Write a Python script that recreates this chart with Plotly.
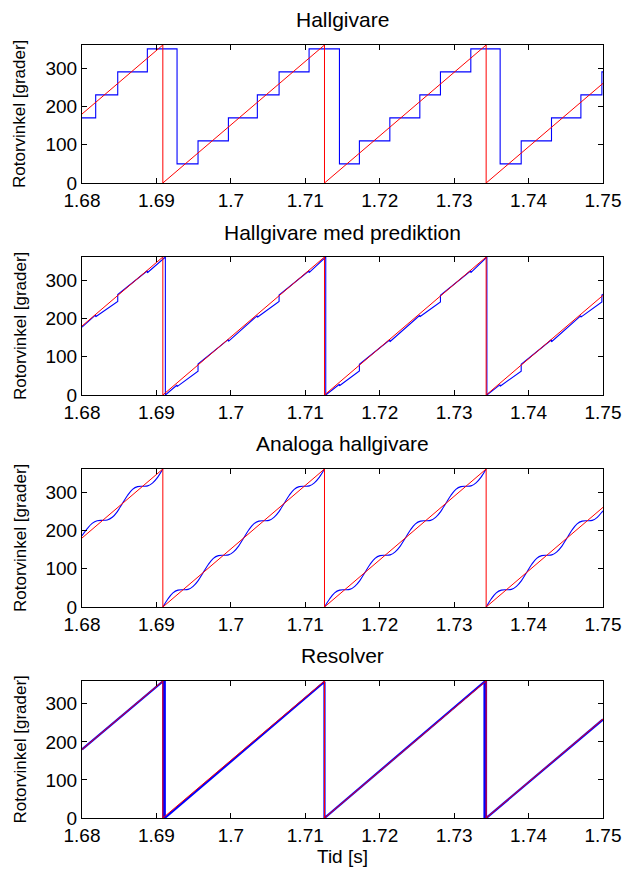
import plotly.graph_objects as go

# ---------------- data ----------------
# true rotor angle (red sawtooth) vertices
red_t = [1.68, 1.69086, 1.69086, 1.71258, 1.71258, 1.73430, 1.73430, 1.75]
red_v = [180, 360, 0, 360, 0, 360, 0, 260]

# Hall sensor steps
hall_t = [1.68, 1.68184, 1.68480, 1.68878, 1.69277, 1.69559, 1.69967, 1.70356, 1.70648,
          1.71051, 1.71459, 1.71727, 1.72136, 1.72539, 1.72816, 1.73224, 1.73618, 1.73901,
          1.74308, 1.74703, 1.74985, 1.75]
hall_v = [170, 230, 290, 350, 50, 110, 170, 230, 290, 350, 50, 110, 170, 230, 290, 350,
          50, 110, 170, 230, 290, 290]

# Hall sensor with prediction
pred_t = [1.68, 1.68184, 1.68184, 1.68480, 1.68480, 1.68878, 1.68878, 1.69120, 1.69120,
          1.69277, 1.69277, 1.69559, 1.69559, 1.69967, 1.69967, 1.70356, 1.70356, 1.70648,
          1.70648, 1.71051, 1.71051, 1.71275, 1.71275, 1.71459, 1.71459, 1.71727, 1.71727,
          1.72136, 1.72136, 1.72539, 1.72539, 1.72816, 1.72816, 1.73224, 1.73224, 1.73440,
          1.73440, 1.73618, 1.73618, 1.73901, 1.73901, 1.74308, 1.74308, 1.74703, 1.74703,
          1.74985, 1.74985, 1.75]
pred_v = [177, 209, 204, 244, 262, 324, 319, 360, 0,
          26, 22, 62, 81, 145, 140, 207, 203, 244,
          261, 324, 319, 360, 0, 28, 24, 63, 80,
          144, 139, 208, 204, 243, 260, 324, 319, 360,
          0, 27, 23, 62, 80, 144, 139, 207, 203,
          243, 261, 263]

# Analog Hall sensors (one list per revolution segment)
ana_t1 = [1.68000, 1.68068, 1.68136, 1.68204, 1.68272, 1.68339, 1.68407, 1.68475, 1.68543,
          1.68611, 1.68679, 1.68747, 1.68815, 1.68882, 1.68950, 1.69018, 1.69086]
ana_v1 = [186, 204, 218, 225, 226, 227, 234, 249, 270, 291, 307, 314, 315, 316, 324, 339, 360]
ana_t2 = [1.69086, 1.69154, 1.69222, 1.69290, 1.69358, 1.69425, 1.69493, 1.69561, 1.69629,
          1.69697, 1.69765, 1.69833, 1.69901, 1.69968, 1.70036, 1.70104, 1.70172, 1.70240,
          1.70308, 1.70376, 1.70444, 1.70511, 1.70579, 1.70647, 1.70715, 1.70783, 1.70851,
          1.70919, 1.70987, 1.71054, 1.71122, 1.71190, 1.71258]
ana_v2 = [0, 21, 37, 44, 45, 46, 54, 69, 90, 111, 127, 134, 135, 136, 144, 159, 180, 201,
          217, 224, 225, 226, 234, 249, 270, 291, 307, 314, 315, 316, 324, 339, 360]
ana_t3 = [1.71258, 1.71326, 1.71394, 1.71462, 1.71530, 1.71597, 1.71665, 1.71733, 1.71801,
          1.71869, 1.71937, 1.72005, 1.72073, 1.72140, 1.72208, 1.72276, 1.72344, 1.72412,
          1.72480, 1.72548, 1.72616, 1.72683, 1.72751, 1.72819, 1.72887, 1.72955, 1.73023,
          1.73091, 1.73159, 1.73226, 1.73294, 1.73362, 1.73430]
ana_v3 = [0, 21, 37, 44, 45, 46, 54, 69, 90, 111, 127, 134, 135, 136, 144, 159, 180, 201,
          217, 224, 225, 226, 234, 249, 270, 291, 307, 314, 315, 316, 324, 339, 360]
ana_t4 = [1.73430, 1.73498, 1.73566, 1.73634, 1.73702, 1.73769, 1.73837, 1.73905, 1.73973,
          1.74041, 1.74109, 1.74177, 1.74245, 1.74312, 1.74380, 1.74448, 1.74516, 1.74584,
          1.74652, 1.74720, 1.74788, 1.74855, 1.74923, 1.74991, 1.75]
ana_v4 = [0, 21, 37, 44, 45, 46, 54, 69, 90, 111, 127, 134, 135, 136, 144, 159, 180, 201,
          217, 224, 225, 226, 234, 249, 251]

# Resolver
res_t = [1.68, 1.69092, 1.69092, 1.69102, 1.69102, 1.69112, 1.69112, 1.71258, 1.71258,
         1.73408, 1.73408, 1.73418, 1.73418, 1.73428, 1.73428, 1.73438, 1.73438, 1.75]
res_v = [180, 360, 1, 1, 359, 359, 0, 358, 0,
         358, 1, 1, 359, 359, 1, 1, 359, 359]
res_t_tail = [1.73438, 1.75]
res_v_tail = [1, 259]

titles = ["Hallgivare", "Hallgivare med prediktion", "Analoga hallgivare", "Resolver"]
x_ticks = [1.68, 1.69, 1.70, 1.71, 1.72, 1.73, 1.74, 1.75]
x_ticktext = ["1.68", "1.69", "1.7", "1.71", "1.72", "1.73", "1.74", "1.75"]
y_ticks = [0, 100, 200, 300]
y_label = "Rotorvinkel [grader]"
x_label = "Tid [s]"

# ---------------- figure ----------------
# The page body has an 8px margin, so the figure is drawn 8px in from the window edge.
OFF = 8
W, H = 638 - 2 * OFF, 877 - 2 * OFF
FONT = "Liberation Sans, Arial, Helvetica, sans-serif"
BLUE = "#0000FF"
RED = "#FF0000"

def px_x(x):
    return (x - OFF) / W

def px_y(y):
    return 1 - (y - OFF) / H

x0, x1 = px_x(82), px_x(603)
panels_px = [(45, 183), (257, 395), (469, 607), (681, 818)]
title_px = [19, 232, 444, 655]

fig = go.Figure()

def add(trace_x, trace_y, color, idx, width=1.0, shape="linear"):
    fig.add_trace(go.Scatter(
        x=trace_x, y=trace_y, mode="lines",
        line=dict(color=color, width=width, shape=shape),
        xaxis="x" if idx == 0 else f"x{idx+1}",
        yaxis="y" if idx == 0 else f"y{idx+1}",
        showlegend=False, hoverinfo="skip", connectgaps=False))

# panel 1
add(hall_t, hall_v, BLUE, 0, 1.1, "hv")
add(red_t, red_v, RED, 0)
# panel 2
add(pred_t, pred_v, BLUE, 1, 1.1)
add(red_t, red_v, RED, 1)
# panel 3
ana_t = ana_t1 + [None] + ana_t2 + [None] + ana_t3 + [None] + ana_t4
ana_v = ana_v1 + [None] + ana_v2 + [None] + ana_v3 + [None] + ana_v4
add(ana_t, ana_v, BLUE, 2, 1.1, "spline")
add(red_t, red_v, RED, 2)
# panel 4
add(res_t[:-2] + res_t_tail, res_v[:-2] + res_v_tail, BLUE, 3, 2.2)
add(red_t, red_v, RED, 3)

layout = dict(
    width=W, height=H,
    margin=dict(l=0, r=0, t=0, b=0),
    paper_bgcolor="white", plot_bgcolor="white",
    font=dict(family=FONT, color="black"),
    showlegend=False,
)

annotations = []
for i, (top, bot) in enumerate(panels_px):
    xa = "xaxis" if i == 0 else f"xaxis{i+1}"
    ya = "yaxis" if i == 0 else f"yaxis{i+1}"
    layout[xa] = dict(
        domain=[x0, x1], range=[1.68, 1.75], anchor="y" if i == 0 else f"y{i+1}",
        tickvals=x_ticks, ticktext=x_ticktext, ticks="inside", ticklen=5,
        tickcolor="black", showline=True, linecolor="black", linewidth=1,
        mirror="allticks", showgrid=False, zeroline=False, automargin=False,
        tickfont=dict(family=FONT, size=19, color="black"), ticklabelstandoff=0,
    )
    layout[ya] = dict(
        domain=[px_y(bot), px_y(top)], range=[0, 360],
        anchor="x" if i == 0 else f"x{i+1}",
        tickvals=y_ticks, ticks="inside", ticklen=5, tickcolor="black",
        showline=True, linecolor="black", linewidth=1, mirror="allticks",
        showgrid=False, zeroline=False, automargin=False,
        tickfont=dict(family=FONT, size=19, color="black"),
    )
    annotations.append(dict(
        text=titles[i], x=(x0 + x1) / 2, y=px_y(title_px[i]), xref="paper", yref="paper",
        xanchor="center", yanchor="middle", showarrow=False,
        font=dict(family=FONT, size=21, color="black")))
    # y-axis label, rotated
    annotations.append(dict(
        text=y_label, x=px_x(20), y=px_y((top + bot) / 2), xref="paper", yref="paper",
        xanchor="center", yanchor="middle", showarrow=False, textangle=-90,
        font=dict(family=FONT, size=17, color="black")))

annotations.append(dict(
    text=x_label, x=(x0 + x1) / 2, y=0, xref="paper", yref="paper",
    xanchor="center", yanchor="bottom", showarrow=False,
    font=dict(family=FONT, size=19, color="black")))

layout["annotations"] = annotations
fig.update_layout(**layout)
fig.write_html("out.html")
